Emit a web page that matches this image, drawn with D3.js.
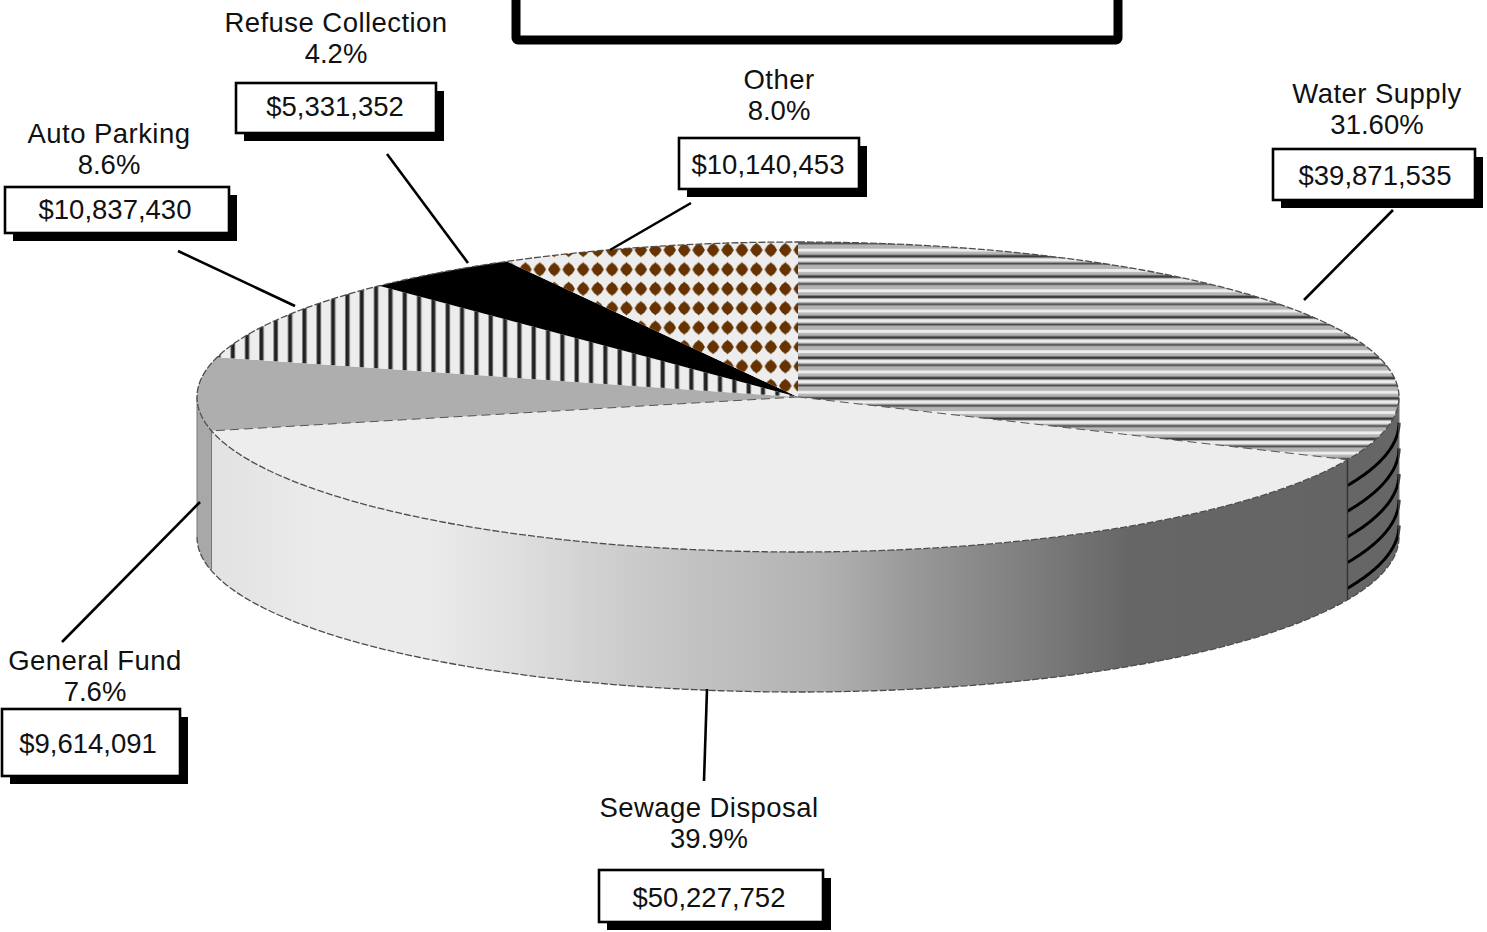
<!DOCTYPE html>
<html>
<head>
<meta charset="utf-8">
<script src="https://cdn.jsdelivr.net/npm/d3@7"></script>
<style>
  html, body { margin: 0; padding: 0; background: #fff; }
  svg { display: block; }
  text { font-family: "Liberation Sans", Arial, sans-serif; fill: #111; }
</style>
</head>
<body>
<svg id="chart" width="1487" height="932"></svg>
<script>
// Revenue sources, clockwise from twelve o'clock
const sources = ["Water Supply", "Sewage Disposal", "General Fund", "Auto Parking", "Refuse Collection", "Other"];
const amounts = [39871535, 50227752, 9614091, 10837430, 5331352, 10140453];
const amountLabels = ["$39,871,535", "$50,227,752", "$9,614,091", "$10,837,430", "$5,331,352", "$10,140,453"];
const shareLabels = ["31.60%", "39.9%", "7.6%", "8.6%", "4.2%", "8.0%"];

const svg = d3.select("#chart");
const defs = svg.append("defs");
const TAU = 2 * Math.PI;

// Disc geometry: an ellipse on screen, with a wall hanging below it
const depth = 140;
const x = d3.scaleLinear().domain([-1, 1]).range([197, 1399]);
const y = d3.scaleLinear().domain([-1, 1]).range([242, 552]);
const rimX = a => x(Math.sin(a));
const rimY = (a, drop = 0) => y(-Math.cos(a)) + drop;
const line = d3.line();

function rim(a0, a1, drop = 0) {
  const n = Math.max(2, Math.ceil(Math.abs(a1 - a0) * 90));
  return d3.range(n + 1).map(i => {
    const a = a0 + (a1 - a0) * i / n;
    return [rimX(a), rimY(a, drop)];
  });
}
const sector = (a0, a1) => line([[x(0), y(0)], ...rim(a0, a1)]) + "Z";
const wall = (a0, a1) => line([...rim(a0, a1), ...rim(a1, a0, depth)]) + "Z";

// Fills -----------------------------------------------------------------
const stripes = defs.append("pattern").attr("id", "stripes")
  .attr("patternUnits", "userSpaceOnUse").attr("width", 10).attr("height", 20.3)
  .attr("patternTransform", "translate(0,296)");
stripes.append("rect").attr("width", 10).attr("height", 20.3).attr("fill", "#bcbcbc");
[[0, 2, "#3c3c3c"], [2, 1, "#9a9a9a"], [3, 3.4, "#ececec"], [6.4, 1, "#999"], [7.4, 2, "#4a4a4a"],
 [9.4, 4.2, "#b4b4b4"], [13.6, 3.2, "#ededed"], [16.8, 2.6, "#b4b4b4"], [19.4, 0.9, "#777"]]
  .forEach(([top, h, c]) => stripes.append("rect")
    .attr("y", top).attr("width", 10).attr("height", h).attr("fill", c));

const bars = defs.append("pattern").attr("id", "bars")
  .attr("patternUnits", "userSpaceOnUse").attr("width", 14.33).attr("height", 10)
  .attr("patternTransform", "translate(287.6,0)");
bars.append("rect").attr("width", 14.33).attr("height", 10).attr("fill", "#ededed");
bars.append("rect").attr("width", 5).attr("height", 10).attr("fill", "#8a8a8a");
bars.append("rect").attr("x", 0.9).attr("width", 3.2).attr("height", 10).attr("fill", "#222");

const dots = defs.append("pattern").attr("id", "dots")
  .attr("patternUnits", "userSpaceOnUse").attr("width", 14.44).attr("height", 19.4)
  .attr("patternTransform", "translate(778.1,240.3)");
dots.append("rect").attr("width", 14.44).attr("height", 19.4).attr("fill", "#ededed");
dots.append("path").attr("fill", "#663300")
  .attr("d", "M7.22 2.4 Q8.9 4.6 10.9 6 Q12.6 7.9 13.4 9.7 Q12.6 11.5 10.9 13.4 Q8.9 14.8 7.22 17 Q5.5 14.8 3.5 13.4 Q1.8 11.5 1 9.7 Q1.8 7.9 3.5 6 Q5.5 4.6 7.22 2.4Z");
dots.append("ellipse").attr("cx", 7.22).attr("cy", 9.7).attr("rx", 5).attr("ry", 5.8).attr("fill", "#663300");

const shade = defs.append("linearGradient").attr("id", "wallShade")
  .attr("gradientUnits", "userSpaceOnUse")
  .attr("x1", 213).attr("x2", 1348).attr("y1", 0).attr("y2", 0);
const shadeX = d3.scaleLinear().domain([213, 1348]).range([0, 1]);
[[213, "#e2e2e2"], [320, "#ebebeb"], [430, "#ebebeb"], [520, "#dedede"], [620, "#cdcdcd"], [720, "#bfbfbf"],
 [820, "#b2b2b2"], [920, "#979797"], [1020, "#808080"], [1130, "#666666"], [1348, "#646464"]]
  .forEach(([px, c]) => shade.append("stop").attr("offset", shadeX(px)).attr("stop-color", c));

const faceFill = ["url(#stripes)", "#ededed", "#aeaeae", "url(#bars)", "#000000", "url(#dots)"];
const wallFill = ["#666666", "url(#wallShade)", "#a8a8a8"];
const edge = { stroke: "#4d4d4d", width: 1.3, dash: "7 2" };

// Slices -----------------------------------------------------------------
const slices = d3.pie().sort(null).value(d => d)(amounts);

// Walls are visible only on the front half of the disc
const gWalls = svg.append("g");
slices.slice(0, 3).forEach((s, i) => {
  const a0 = Math.max(s.startAngle, TAU / 4);
  const a1 = Math.min(s.endAngle, 3 * TAU / 4);
  gWalls.append("path").attr("d", wall(a0, a1)).attr("fill", wallFill[i]);
});

// Curved bands on the water supply wall
const waterEnd = slices[0].endAngle;
d3.range(1, 6).forEach(i => {
  gWalls.append("path").attr("d", line(rim(waterEnd, TAU / 4, i * depth / 5.45)))
    .attr("fill", "none").attr("stroke", "#000").attr("stroke-width", 3);
});

// Wall outline: seams and lower rim
gWalls.append("path").attr("d", line(rim(TAU / 4, 3 * TAU / 4, depth)))
  .attr("fill", "none").attr("stroke", edge.stroke).attr("stroke-width", edge.width).attr("stroke-dasharray", edge.dash);
[TAU / 4, waterEnd, slices[1].endAngle, 3 * TAU / 4].forEach((a, i) => {
  gWalls.append("line")
    .attr("x1", rimX(a)).attr("x2", rimX(a))
    .attr("y1", rimY(a)).attr("y2", rimY(a, depth))
    .attr("stroke", i === 1 ? "#333" : "#777").attr("stroke-width", i === 1 ? 1.4 : 1);
});

// Top face
const gFaces = svg.append("g");
slices.forEach((s, i) => {
  gFaces.append("path").attr("d", sector(s.startAngle, s.endAngle)).attr("fill", faceFill[i]);
});
// Dashed seams where the pale and grey slices meet their neighbours
[waterEnd, slices[1].endAngle].forEach(a => {
  gFaces.append("line")
    .attr("x1", x(0)).attr("y1", y(0)).attr("x2", rimX(a)).attr("y2", rimY(a))
    .attr("stroke", "#555").attr("stroke-width", 1).attr("stroke-dasharray", "9 5");
});
gFaces.append("path").attr("d", line(rim(0, TAU)))
  .attr("fill", "none").attr("stroke", edge.stroke).attr("stroke-width", edge.width).attr("stroke-dasharray", edge.dash);

// Callouts ----------------------------------------------------------------
const callouts = [
  { nameX: 1377, nameY: 103, box: [1273, 149, 202, 51], amountX: 1375, amountY: 185, leader: [[1393, 210], [1304, 300]] },
  { nameX: 709,  nameY: 817, box: [599, 870, 224, 52],  amountX: 709,  amountY: 907, leader: [[707, 689], [704, 781]] },
  { nameX: 95,   nameY: 670, box: [2, 709, 178, 67],    amountX: 88,   amountY: 753, leader: [[200, 502], [62, 642]] },
  { nameX: 109,  nameY: 143, box: [5, 187, 224, 46],    amountX: 115,  amountY: 219, leader: [[178, 251], [295, 306]] },
  { nameX: 336,  nameY: 32,  box: [236, 83, 200, 50],   amountX: 335,  amountY: 116, leader: [[387, 154], [468, 263]] },
  { nameX: 779,  nameY: 89,  box: [679, 138, 180, 51],  amountX: 768,  amountY: 174, leader: [[691, 203], [610, 250]] }
];
const lineGap = 31, shadow = 8, fontPx = 27.5;

const gLabels = svg.append("g");
callouts.forEach((c, i) => {
  const [bx, by, bw, bh] = c.box;
  gLabels.append("path").attr("d", line(c.leader))
    .attr("fill", "none").attr("stroke", "#000").attr("stroke-width", 2.6);
  gLabels.append("text").attr("x", c.nameX).attr("y", c.nameY)
    .attr("text-anchor", "middle").attr("font-size", fontPx)
    .attr("letter-spacing", 0.45).text(sources[i]);
  gLabels.append("text").attr("x", c.nameX).attr("y", c.nameY + lineGap)
    .attr("text-anchor", "middle").attr("font-size", fontPx).text(shareLabels[i]);
  gLabels.append("rect").attr("x", bx + shadow).attr("y", by + shadow)
    .attr("width", bw).attr("height", bh).attr("fill", "#000");
  gLabels.append("rect").attr("x", bx).attr("y", by)
    .attr("width", bw).attr("height", bh)
    .attr("fill", "#fff").attr("stroke", "#000").attr("stroke-width", 2.6);
  gLabels.append("text").attr("x", c.amountX).attr("y", c.amountY)
    .attr("text-anchor", "middle").attr("font-size", fontPx).text(amountLabels[i]);
});

// Heavy empty frame running off the top edge
svg.append("rect").attr("x", 516).attr("y", -30).attr("width", 602).attr("height", 70)
  .attr("rx", 2).attr("fill", "#fff").attr("stroke", "#000").attr("stroke-width", 9);
</script>
</body>
</html>
